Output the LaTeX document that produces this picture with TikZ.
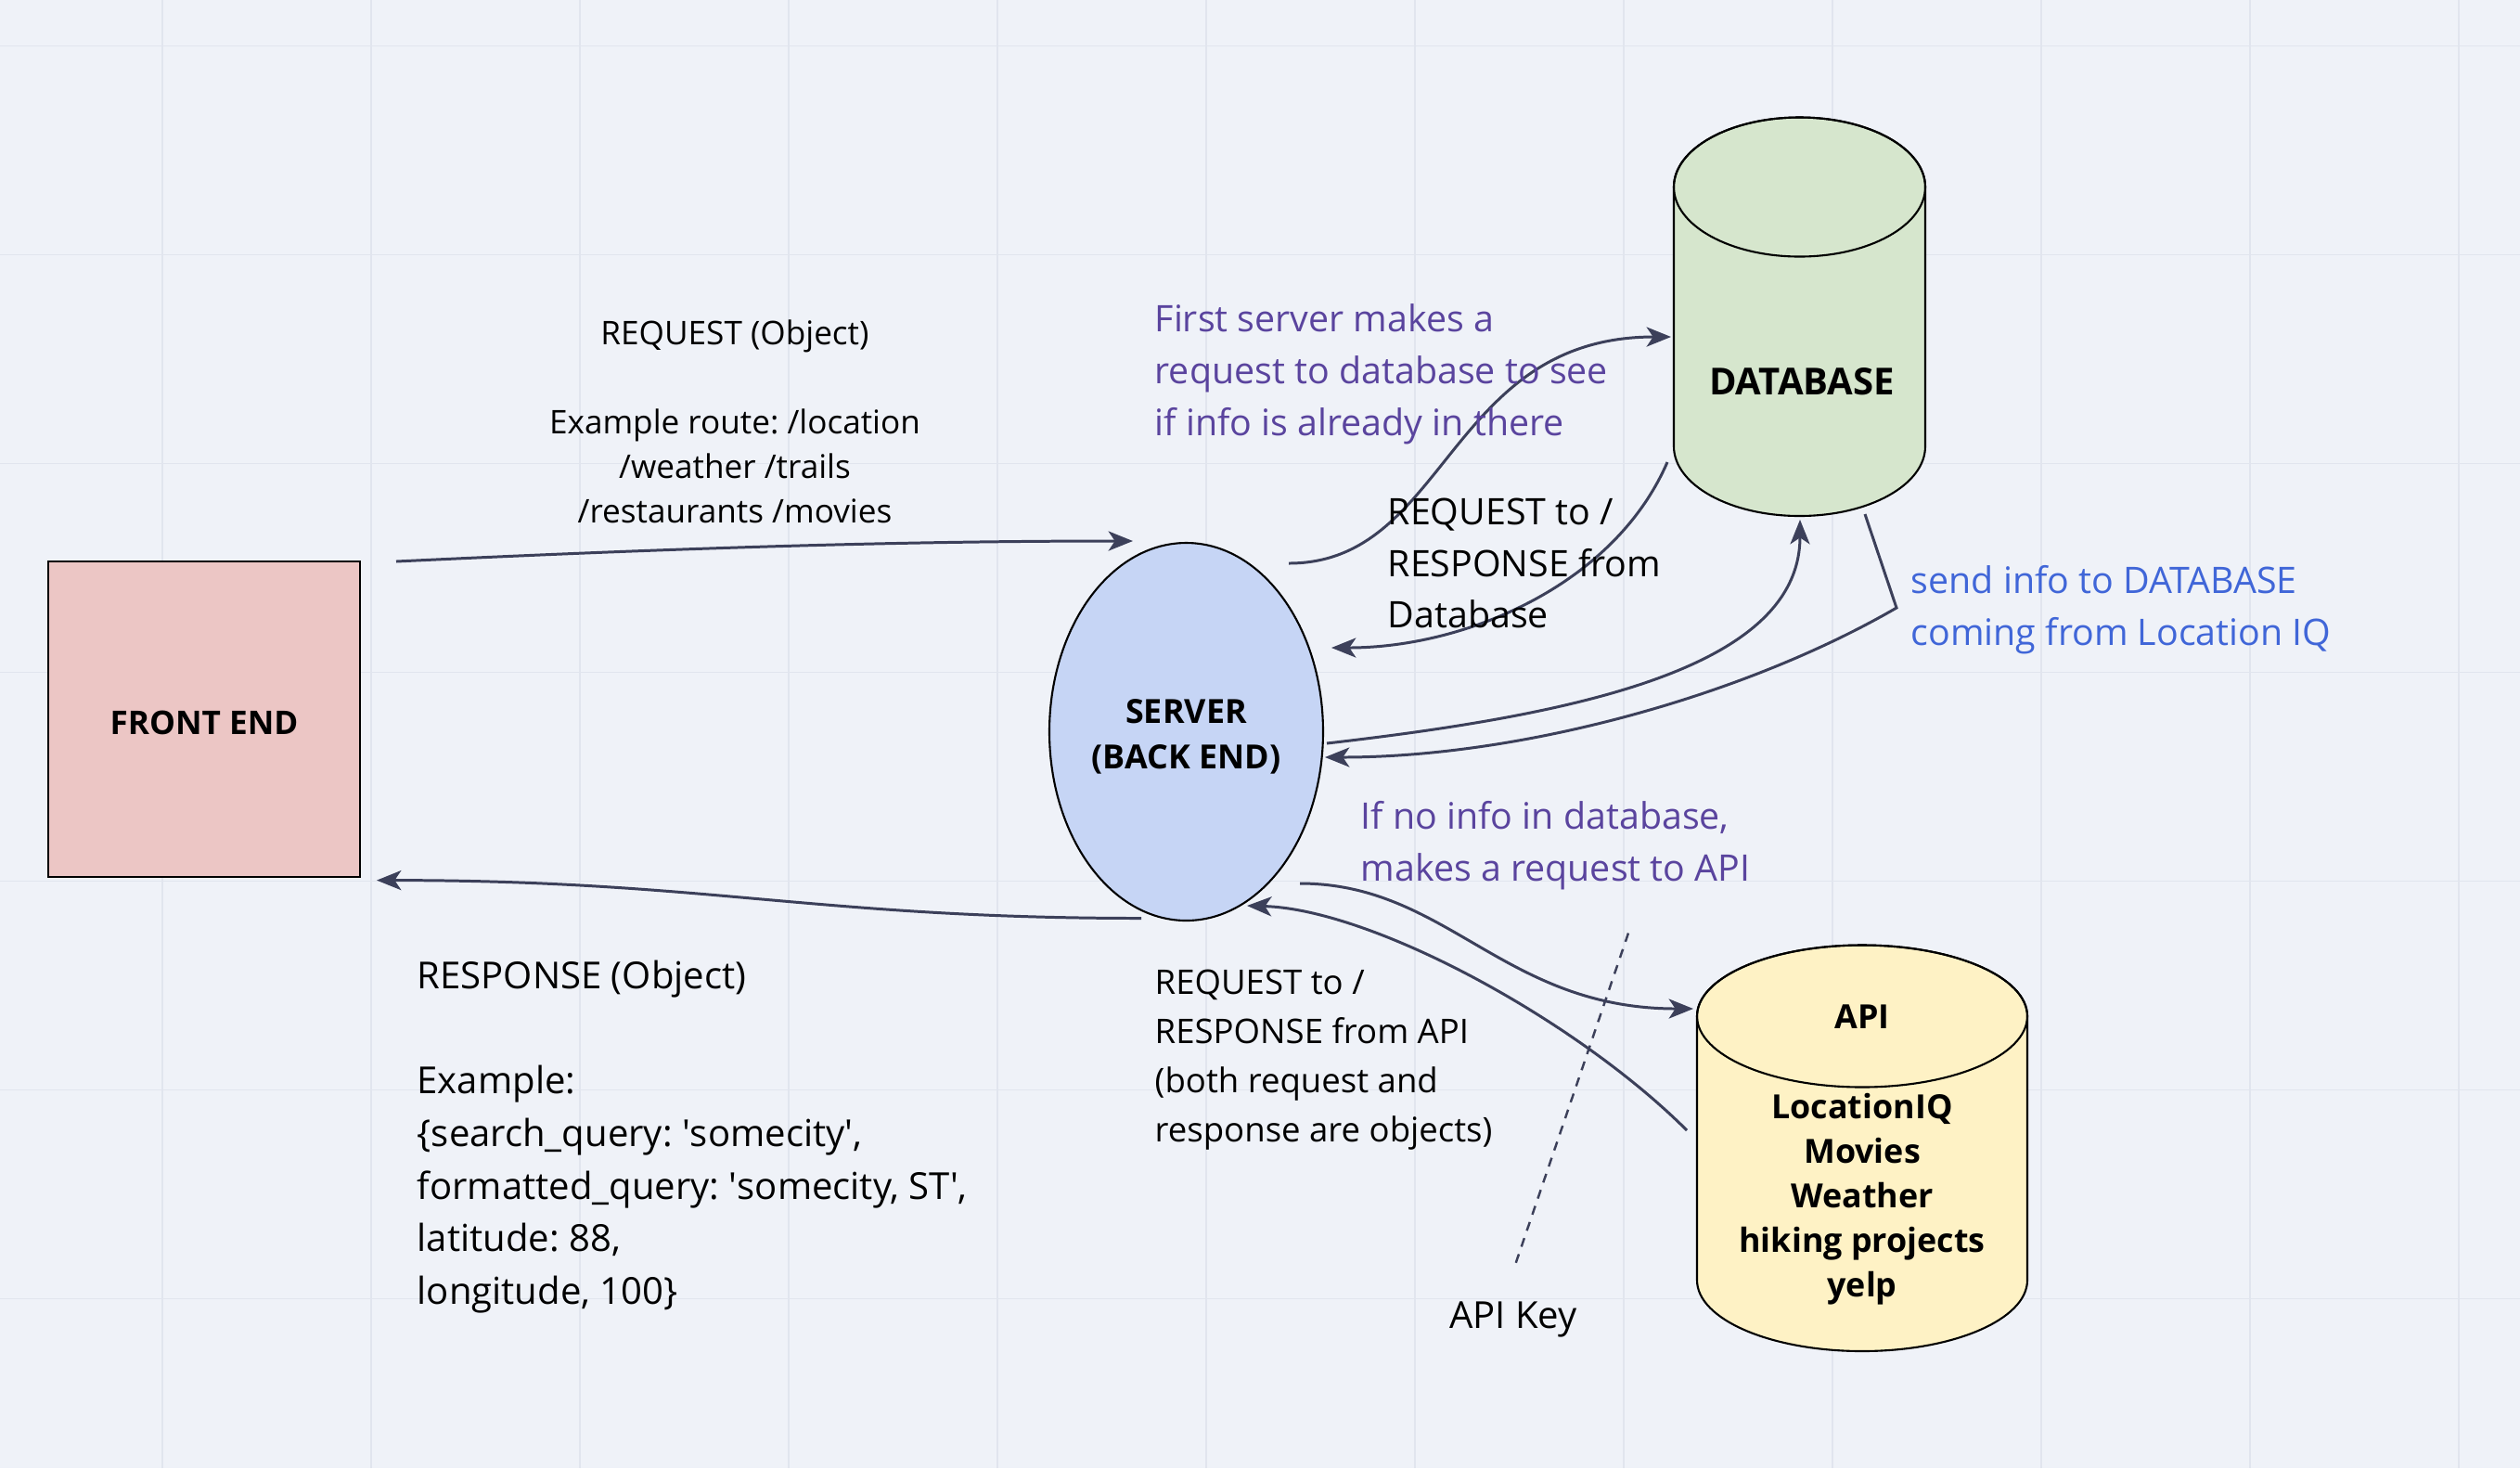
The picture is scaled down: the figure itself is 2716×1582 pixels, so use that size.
\documentclass[tikz,border=0pt]{standalone}
\usepackage{fontspec}
\setmainfont{Open Sans}
\usetikzlibrary{shapes.geometric,arrows.meta}
\definecolor{bggrey}{HTML}{EFF2F8}
\definecolor{gridgrey}{HTML}{E1E5EE}
\definecolor{frontred}{HTML}{ECC6C5}
\definecolor{serverblue}{HTML}{C6D5F5}
\definecolor{dbgreen}{HTML}{D6E6CD}
\definecolor{apiyellow}{HTML}{FEF2C5}
\definecolor{arrowgrey}{HTML}{3C405A}
\definecolor{notepurple}{HTML}{5A449E}
\definecolor{noteblue}{HTML}{4066D8}
\frenchspacing

\begin{document}
\begin{tikzpicture}[x=0.1mm,y=-0.1mm,
  flow/.style={draw=arrowgrey,line width=0.85pt,-{Stealth[length=7.5pt,width=6pt,inset=2pt]}},
  boxlabel/.style={font=\fontsize{10.2}{13.9}\selectfont\bfseries,align=center},
  note/.style={inner sep=0pt,align=left,anchor=west,font=\fontsize{11.2}{15.9}\selectfont}]

\useasboundingbox (0,0) rectangle (2716,1582);
\fill[bggrey] (0,0) rectangle (2716,1582);
\foreach \x in {175,400,...,2650} \draw[gridgrey,line width=0.5pt] (\x,0) -- (\x,1582);
\foreach \y in {49.5,274.5,...,1400} \draw[gridgrey,line width=0.5pt] (0,\y) -- (2716,\y);

\begin{scope}[line width=0.6pt]
\node[draw,fill=frontred,minimum width=33.6mm,minimum height=34mm,boxlabel,font=\fontsize{10}{13.9}\selectfont\bfseries] (front) at (220,775) {};
\node[boxlabel,font=\fontsize{10}{13.9}\selectfont\bfseries] (frontlabel) at (220,779) {FRONT END};
\node[ellipse,draw,fill=serverblue,minimum width=29.5mm,minimum height=40.7mm,inner sep=0pt] (server) at (1278.5,788.5) {};
\node[boxlabel] (serverlabel) at (1278.5,794) {SERVER\\(BACK END)};

% database cylinder
\filldraw[fill=dbgreen] (1804,201.5) -- (1804,481) arc[start angle=180,end angle=0,x radius=135.5,y radius=75] -- (2075,201.5) arc[start angle=0,end angle=-180,x radius=135.5,y radius=75] -- cycle;
\draw (1939.5,201.5) ellipse[x radius=135.5,y radius=75];
\node[boxlabel,font=\fontsize{11.4}{15}\selectfont\bfseries] (db) at (1942,411) {DATABASE};

% api cylinder
\filldraw[fill=apiyellow] (1829,1095) -- (1829,1379.5) arc[start angle=180,end angle=0,x radius=178,y radius=76.5] -- (2185,1095) arc[start angle=0,end angle=-180,x radius=178,y radius=76.5] -- cycle;
\draw (2007,1095) ellipse[x radius=178,y radius=76.5];
\node[boxlabel] (api) at (2007,1096) {API};
\node[boxlabel,font=\fontsize{10.2}{13.66}\selectfont\bfseries] (apilist) at (2007,1292) {LocationIQ\\Movies\\Weather\\hiking projects\\yelp};
\end{scope}

\coordinate (fe-out) at (427,605);
\coordinate (srv-in) at (1221,583);
\coordinate (srv-out) at (1230,989.5);
\coordinate (fe-in) at (406,948.6);
\coordinate (srv-q) at (1389,607);
\coordinate (db-in) at (1801,363);
\coordinate (db-out) at (1797,498);
\coordinate (srv-a) at (1435,698);
\coordinate (srv-b) at (1430,801);
\coordinate (db-b) at (1940,560);
\coordinate (db-c) at (2010,554);
\coordinate (db-d) at (2044,655);
\coordinate (srv-c) at (1428,816);
\coordinate (srv-d) at (1401,952);
\coordinate (api-in) at (1825,1087);
\coordinate (api-out) at (1818,1218);
\coordinate (srv-e) at (1344,976);
\coordinate (key-top) at (1755,1005.5);
\coordinate (key-bot) at (1632,1366);

\draw[flow] (fe-out) .. controls (700,592) and (950,583) .. (srv-in);
\draw[flow] (srv-out) .. controls (880,989.5) and (760,948.6) .. (fe-in);
\draw[flow] (srv-q) .. controls (1560,607) and (1560,363) .. (db-in);
\draw[flow] (db-out) .. controls (1740,630) and (1580,698) .. (srv-a);
\draw[flow] (srv-b) .. controls (1700,770) and (1940,720) .. (db-b);
\draw[flow] (db-c) -- (db-d) .. controls (1880,750) and (1640,816) .. (srv-c);
\draw[flow] (srv-d) .. controls (1560,952) and (1620,1087) .. (api-in);
\draw[flow] (api-out) .. controls (1700,1100) and (1480,980) .. (srv-e);
\draw[arrowgrey,line width=0.7pt,dash pattern=on 2.8pt off 2.4pt] (key-top) -- (key-bot);

\node[align=center,inner sep=0pt,font=\fontsize{10}{13.66}\selectfont] (reqlabel) at (792,454) {REQUEST (Object)\\[13.66pt]Example route: /location\\/weather /trails\\/restaurants /movies};
\node[note,text=notepurple] (firstnote) at (1244,403) {First server makes a\\request to database to see\\if info is already in there};
\node[note] (dblabel) at (1495,607) {REQUEST to /\\RESPONSE from\\Database};
\node[note,text=noteblue] (sendnote) at (2059,657) {send info to DATABASE\\coming from Location IQ};
\node[note,text=notepurple] (ifnote) at (1466,911) {If no info in database,\\makes a request to API};
\node[note,font=\fontsize{10.4}{15.1}\selectfont] (apilabel) at (1244,1142) {REQUEST to /\\RESPONSE from API\\(both request and\\response are objects)};
\node[note,font=\fontsize{11.4}{16.1}\selectfont] (resplabel) at (449,1225) {RESPONSE (Object)\\[16.1pt]Example:\\\{search\_query: \textquotesingle somecity\textquotesingle,\\formatted\_query: \textquotesingle somecity, ST\textquotesingle,\\latitude: 88,\\longitude, 100\}};
\node[font=\fontsize{11.4}{15}\selectfont] (apikey) at (1631,1422) {API Key};

\end{tikzpicture}
\end{document}
